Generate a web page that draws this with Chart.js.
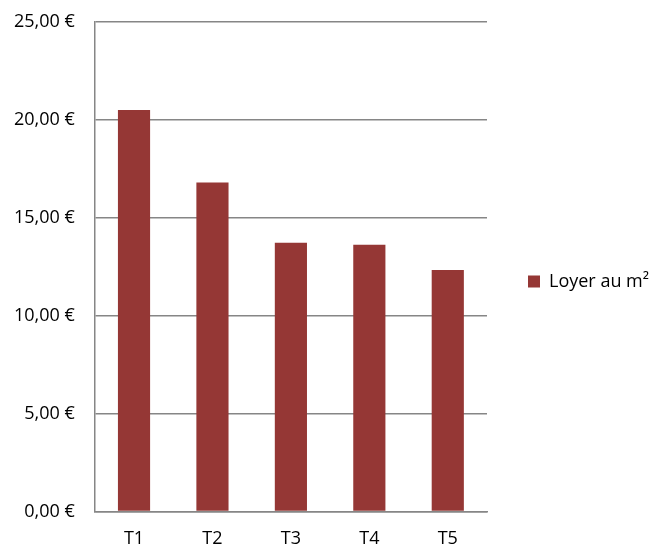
<!DOCTYPE html>
<html>
<head>
<meta charset="utf-8">
<script src="https://cdn.jsdelivr.net/npm/chart.js@4/dist/chart.umd.min.js"></script>
<style>
  html, body { margin: 0; padding: 0; background: #ffffff; }
  #wrap { width: 649px; height: 547px; }
</style>
</head>
<body>
<div id="wrap"><canvas id="c" width="649" height="547"></canvas></div>
<script>
const categories = ["T1", "T2", "T3", "T4", "T5"];
const seriesName = "Loyer au m²";
const loyerValues = [20.50, 16.80, 13.72, 13.62, 12.33];
const yTicks = [0, 5, 10, 15, 20, 25];

const fontFamily = "'Open Sans', 'Noto Sans', sans-serif";
const gridColor = "#868686";
const barColor = "#953735";

function euro(v) {
  return v.toFixed(2).replace(".", ",") + " €";
}

new Chart(document.getElementById("c"), {
  type: "bar",
  data: {
    labels: categories,
    datasets: [{
      label: seriesName,
      data: loyerValues,
      backgroundColor: barColor,
      borderWidth: 0,
      barPercentage: 0.41,
      categoryPercentage: 1.0
    }]
  },
  options: {
    responsive: false,
    animation: false,
    devicePixelRatio: 1,
    layout: { padding: { top: -4, left: -6, right: 0, bottom: -20 } },
    plugins: {
      tooltip: { enabled: false },
      legend: {
        position: "right",
        align: "center",
        maxWidth: 162,
        labels: {
          boxWidth: 12,
          boxHeight: 12,
          padding: 41,
          color: "#000000",
          font: { family: fontFamily, size: 18 }
        }
      }
    },
    scales: {
      x: {
        grid: { display: false, drawTicks: false },
        border: { display: true, color: gridColor, width: 1.5 },
        ticks: {
          color: "#000000",
          padding: 17,
          font: { family: fontFamily, size: 18 }
        }
      },
      y: {
        min: 0,
        max: 25,
        afterBuildTicks: (scale) => { scale.ticks = yTicks.map(v => ({ value: v })); },
        afterFit: (scale) => { scale.paddingTop = 22; scale.paddingBottom = 0; },
        grid: { color: gridColor, lineWidth: 1.5, drawTicks: false },
        border: { display: true, color: gridColor, width: 1.5 },
        ticks: {
          color: "#000000",
          padding: 20,
          font: { family: fontFamily, size: 18 },
          callback: (v) => euro(v)
        }
      }
    }
  }
});
</script>
</body>
</html>
